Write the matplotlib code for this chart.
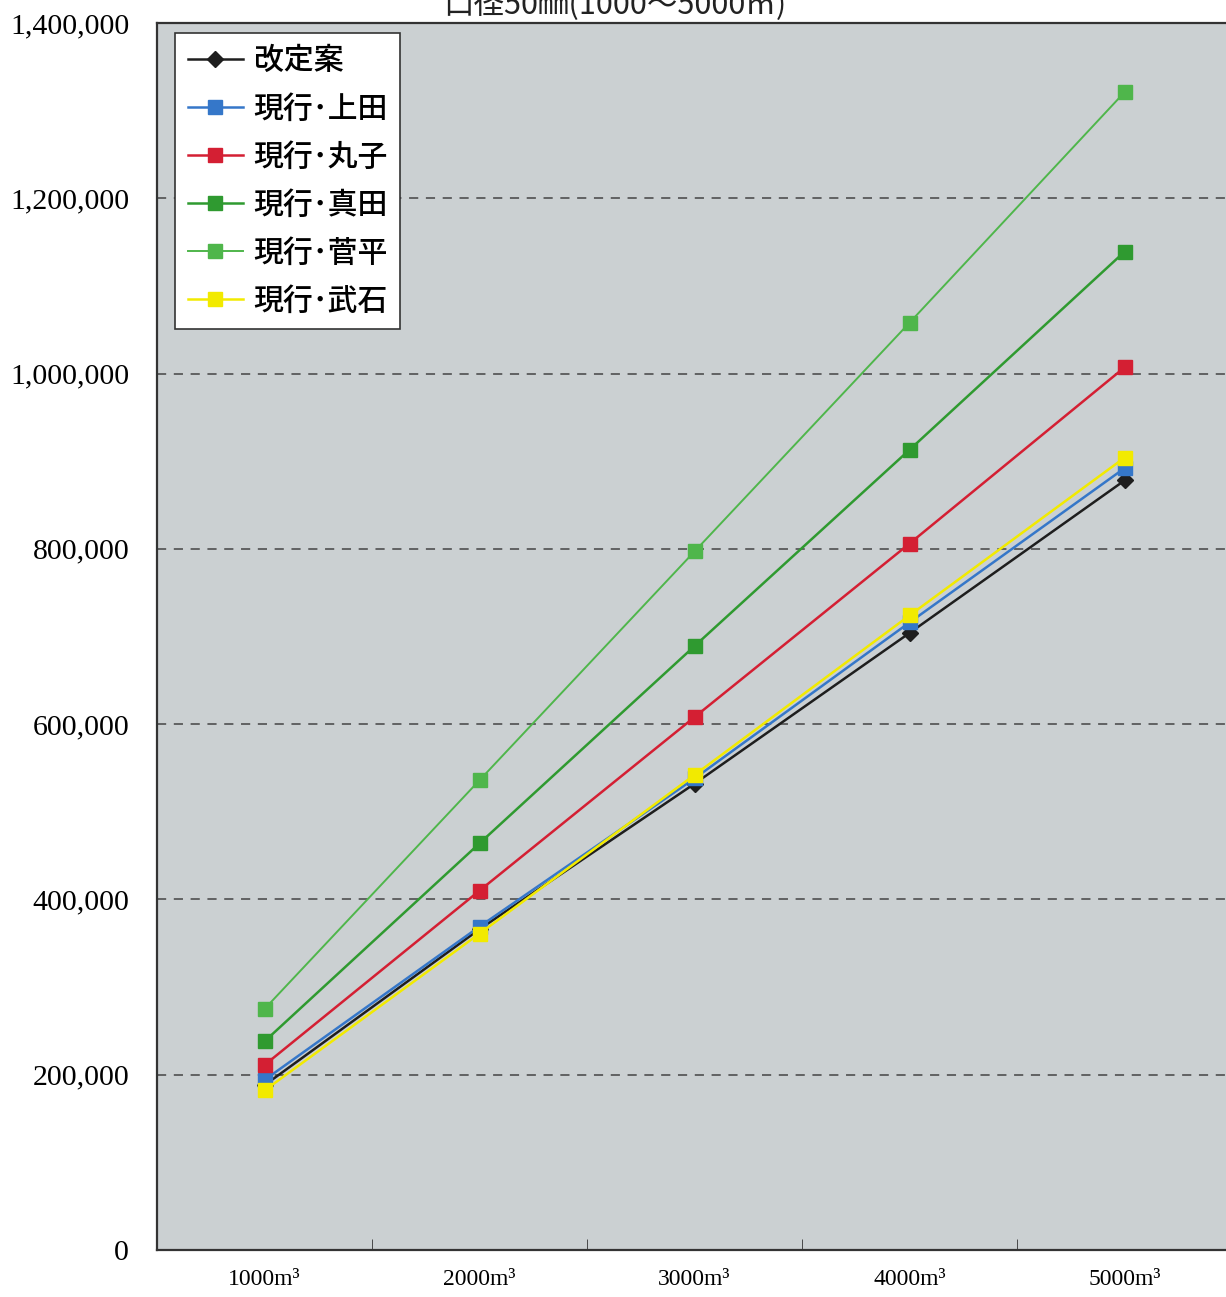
import matplotlib.pyplot as plt
import numpy as np

plt.rcParams['font.family'] = ['Liberation Serif', 'Noto Sans CJK JP', 'DejaVu Sans']

# dane
volumes = ['1000m³', '2000m³', '3000m³', '4000m³', '5000m³']
kaitei = [188000, 366000, 532000, 704000, 878000]
ueda = [194000, 369000, 538000, 716000, 892000]
maruko = [211000, 410000, 608000, 806000, 1007000]
sanada = [238000, 464000, 689000, 913000, 1139000]
sugadaira = [275000, 536000, 797000, 1058000, 1321000]
takeshi = [182000, 361000, 542000, 724000, 904000]

series = [
    ('改定案', kaitei, '#1e1e1e', 'D', 8),
    ('現行･上田', ueda, '#3577c9', 's', 10),
    ('現行･丸子', maruko, '#d41f33', 's', 10),
    ('現行･真田', sanada, '#2f9a30', 's', 10),
    ('現行･菅平', sugadaira, '#4fb64b', 's', 10),
    ('現行･武石', takeshi, '#f2ea00', 's', 10),
]

fig = plt.figure(figsize=(12.26, 12.97), dpi=100)
ax = fig.add_axes([157 / 1226, 47 / 1297, 1075 / 1226, 1227 / 1297])
ax.set_facecolor('#cbd0d2')

x = np.arange(len(volumes))
for name, vals, col, mk, ms in series:
    lw = 1.4 if name == '現行･菅平' else 1.8
    ax.plot(x, vals, color=col, lw=lw, marker=mk, ms=ms, label=name,
            markeredgecolor=col)

ax.set_xlim(-0.5, 4.5)
ax.set_ylim(0, 1400000)
ax.set_yticks(np.arange(0, 1400001, 200000))
ax.set_yticklabels([f'{v:,}' for v in range(0, 1400001, 200000)], fontsize=21.5)
ax.tick_params(axis='y', length=0, pad=20)

ax.set_xticks(x)
ax.set_xticklabels(volumes, fontsize=17)
ax.set_xticks(np.arange(0.5, 4.5, 1), minor=True)
ax.tick_params(axis='x', which='major', length=0, pad=14)
ax.tick_params(axis='x', which='minor', length=8, direction='in', color='#333333')

for v in range(200000, 1400000, 200000):
    ax.axhline(v, color='#444444', lw=1.1, ls=(0, (6, 5)), zorder=1)

for s in ax.spines.values():
    s.set_color('#333333')
    s.set_linewidth(1.6)

leg = ax.legend(loc='upper left', bbox_to_anchor=(0.017, 0.992),
                prop={'family': ['Noto Sans CJK JP'], 'size': 21.5, 'weight': 'medium'},
                frameon=True, fancybox=False, edgecolor='#333333', framealpha=1,
                handlelength=1.85, labelspacing=0.57, borderpad=0.42,
                handletextpad=0.35, borderaxespad=0)
leg.get_frame().set_facecolor('white')
leg.get_frame().set_linewidth(1.2)

fig.text(615 / 1226, 1 - 14 / 1297, '口径50㎜(1000～5000㎥)', ha='center', va='baseline',
         fontsize=22, family=['Noto Sans CJK JP', 'DejaVu Sans'], color='#222222')

fig.savefig('out.png', dpi=100, facecolor='white')
